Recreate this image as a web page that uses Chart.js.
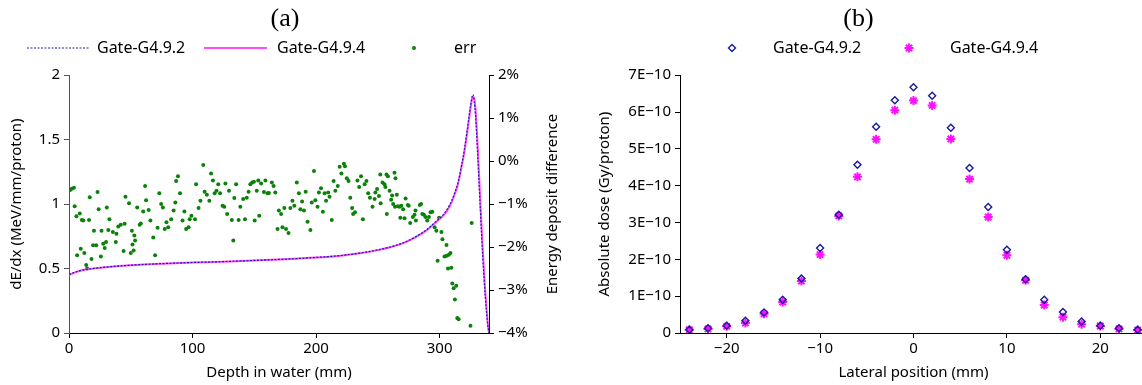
<!DOCTYPE html>
<html>
<head>
<meta charset="utf-8">
<script src="https://cdn.jsdelivr.net/npm/chart.js@4.4.1/dist/chart.umd.min.js"></script>
<style>
  html, body { margin: 0; padding: 0; background: #fff; overflow: hidden; }
  #wrap { position: relative; width: 1142px; height: 385px; overflow: hidden; }
  #panelA { position: absolute; left: 0; top: 0; }
  #panelB { position: absolute; left: 570px; top: 0; }
</style>
</head>
<body>
<div id="wrap">
  <canvas id="panelA" width="570" height="385"></canvas>
  <canvas id="panelB" width="610" height="385"></canvas>
</div>
<script>
// ---------- panel (a): depth dose curves ----------
const depthMm = [0, 5, 10, 20, 30, 50, 75, 100, 125, 150, 175, 200, 220, 235, 250, 260, 270, 280, 290, 297, 303, 308, 312, 315, 318, 320, 322, 324, 325, 326, 327, 328, 329, 330, 331, 332, 333, 334, 335, 336, 337, 338, 339, 340];
const dedxG492 = [0.455, 0.472, 0.487, 0.501, 0.511, 0.526, 0.538, 0.547, 0.554, 0.563, 0.573, 0.586, 0.601, 0.619, 0.645, 0.667, 0.698, 0.743, 0.805, 0.865, 0.918, 0.99, 1.08, 1.17, 1.31, 1.42, 1.55, 1.69, 1.76, 1.82, 1.85, 1.8, 1.7, 1.54, 1.35, 1.15, 0.95, 0.76, 0.58, 0.42, 0.28, 0.16, 0.06, 0];
const dedxG494 = [0.45, 0.47, 0.485, 0.5, 0.51, 0.525, 0.537, 0.546, 0.553, 0.562, 0.572, 0.585, 0.6, 0.618, 0.643, 0.665, 0.695, 0.74, 0.8, 0.86, 0.91, 0.98, 1.07, 1.16, 1.3, 1.4, 1.53, 1.67, 1.74, 1.8, 1.83, 1.82, 1.75, 1.6, 1.42, 1.22, 1.02, 0.82, 0.64, 0.47, 0.32, 0.19, 0.08, 0];

// relative difference (%) between the two versions, read point by point
const errDepth = [0.9, 2.3, 4, 4.6, 6, 6.6, 8.7, 9.5, 10.4, 11.6, 12.4, 13.9, 14.7, 16.2, 16.8, 18.2, 19.5, 20.2, 22, 23.1, 24, 25.8, 26.3, 27.7, 28.9, 30, 30.6, 31.8, 32.7, 35.5, 37.9, 38.4, 39.9, 41.9, 44.2, 45, 45.7, 48.6, 50, 50.9, 51.4, 52.3, 52.9, 53.5, 55.2, 57.2, 58.1, 60.1, 61.6, 62.4, 64.5, 65.9, 68.2, 69.7, 71.7, 73.1, 74.6, 76, 77.5, 78.9, 80.3, 82.7, 84.7, 86.1, 86.7, 88.2, 89.9, 91.9, 93.4, 94.8, 96.8, 97.7, 99.1, 102, 102.9, 104.9, 106.4, 108.7, 109.8, 111.6, 113.6, 115, 116.5, 117.9, 119.4, 120.8, 122.3, 124.3, 125.7, 126.6, 128, 129.5, 131.8, 133, 133.8, 135.3, 137.3, 138.7, 141, 142.5, 143.9, 145.4, 146.8, 148.3, 149.7, 150.3, 152, 153.2, 154, 155.5, 157.8, 159, 160.7, 161.8, 164.2, 165.6, 167, 168.8, 169.9, 171.7, 172.8, 174.3, 175.7, 177.7, 179.2, 180.9, 182.4, 184.4, 186.1, 187.3, 188.7, 190.2, 191.6, 193.1, 195.4, 196.5, 198.3, 199.4, 201.2, 202.3, 204, 205.5, 206.9, 208.1, 209.8, 210.9, 212.7, 214.2, 215.6, 217.6, 219.1, 220.5, 222.5, 223.4, 224.9, 226.3, 227.7, 229.2, 230, 231.5, 233.5, 234.9, 236.4, 237.9, 239.3, 240.8, 242.2, 243.6, 245.7, 247.4, 248, 249.4, 250.9, 252, 252.3, 253.8, 255.4, 256.1, 257, 257.3, 258.1, 259.5, 260.8, 261.6, 262.4, 263.5, 263.9, 264.3, 265.4, 266.2, 267.6, 268.2, 269, 270.5, 271.6, 272.5, 274.3, 275, 276.2, 278.4, 279.7, 280.5, 280.8, 284, 285, 286, 287.3, 288.6, 290, 291.4, 292.7, 294.1, 296, 297.4, 298.4, 299.6, 301.5, 302.3, 304, 305.6, 305.8, 306.8, 307.5, 308.8, 309.5, 310.3, 311.4, 312.4, 313.5, 314.3, 315.4, 325, 326];
const errPct = [-0.67, -0.64, -0.62, -1.05, -1.28, -2.19, -1.22, -2.04, -1.37, -1.38, -2.14, -2.42, -2.5, -1.37, -0.84, -2.28, -1.96, -1.62, -1.96, -0.72, -1.12, -2.22, -1.62, -1.92, -2.02, -1.88, -1.08, -1.6, -1.35, -1.65, -1.88, -1.69, -1.52, -1.48, -2.09, -1.46, -0.83, -0.98, -2.14, -1.62, -1.94, -2.08, -1.73, -1.85, -1.08, -1.48, -1.45, -1.17, -0.58, -0.91, -1.14, -1.38, -1.78, -2.19, -1.55, -0.75, -1.0, -1.08, -1.58, -1.42, -1.54, -1.35, -1.15, -0.96, -0.46, -0.35, -0.75, -1.38, -1.17, -1.58, -1.54, -1.35, -1.27, -1.35, -0.54, -1.09, -0.92, -0.09, -0.71, -0.78, -0.92, -0.29, -0.45, -0.75, -0.69, -0.54, -0.75, -1.04, -1.06, -0.52, -1.23, -0.69, -1.37, -1.85, -0.86, -0.54, -1.37, -1.06, -0.88, -1.35, -0.85, -0.71, -0.54, -0.5, -0.48, -1.38, -0.69, -0.45, -1.27, -0.52, -0.72, -0.45, -0.75, -0.74, -0.5, -0.58, -0.73, -1.58, -1.15, -1.23, -1.54, -1.09, -1.58, -1.67, -1.09, -0.92, -1.04, -0.5, -0.75, -1.12, -0.94, -1.15, -0.71, -1.41, -1.6, -0.96, -0.23, -0.91, -1.06, -0.73, -0.63, -1.18, -0.75, -0.92, -0.73, -0.83, -1.37, -0.46, -0.69, -0.58, -0.13, -0.29, -0.06, -0.12, -0.4, -0.46, -0.85, -1.09, -1.23, -1.19, -0.45, -0.6, -0.35, -1.35, -0.54, -0.46, -0.75, -0.85, -1.06, -0.88, -0.73, -0.65, -0.81, -0.31, -0.98, -0.5, -0.54, -0.6, -0.31, -1.23, -0.35, -0.69, -0.9, -0.8, -1.0, -0.27, -1.06, -0.4, -0.78, -1.05, -1.06, -1.32, -1.04, -1.12, -1.33, -0.87, -1.02, -1.04, -1.44, -1.3, -1.25, -1.15, -1.38, -1.02, -1.0, -1.23, -1.25, -1.3, -1.38, -1.3, -1.19, -1.18, -1.54, -1.62, -2.32, -1.32, -1.65, -1.82, -2.22, -1.95, -2.2, -2.5, -2.18, -2.14, -2.48, -2.85, -2.96, -3.22, -2.9, -3.65, -3.68, -3.83, -1.44];

const depthTicks = [0, 100, 200, 300];
const dedxTicks = [0, 0.5, 1, 1.5, 2];
const pctTicks = [-4, -3, -2, -1, 0, 1, 2];

// ---------- panel (b): lateral profiles ----------
const lateralMm = [-24, -22, -20, -18, -16, -14, -12, -10, -8, -6, -4, -2, 0, 2, 4, 6, 8, 10, 12, 14, 16, 18, 20, 22, 24];
const doseG492 = [0.09e-10, 0.13e-10, 0.2e-10, 0.33e-10, 0.56e-10, 0.9e-10, 1.48e-10, 2.31e-10, 3.21e-10, 4.57e-10, 5.6e-10, 6.32e-10, 6.67e-10, 6.44e-10, 5.57e-10, 4.48e-10, 3.42e-10, 2.26e-10, 1.46e-10, 0.9e-10, 0.57e-10, 0.31e-10, 0.2e-10, 0.13e-10, 0.09e-10];
const doseG494 = [0.09e-10, 0.11e-10, 0.18e-10, 0.27e-10, 0.52e-10, 0.84e-10, 1.41e-10, 2.13e-10, 3.18e-10, 4.24e-10, 5.26e-10, 6.05e-10, 6.31e-10, 6.18e-10, 5.27e-10, 4.18e-10, 3.15e-10, 2.11e-10, 1.43e-10, 0.76e-10, 0.43e-10, 0.24e-10, 0.19e-10, 0.11e-10, 0.08e-10];

const lateralTicks = [-20, -10, 0, 10, 20];
const doseTicks = [0, 1e-10, 2e-10, 3e-10, 4e-10, 5e-10, 6e-10, 7e-10];

const MINUS = '\u2212';
Chart.defaults.font.family = '"Noto Sans", sans-serif';
Chart.defaults.font.size = 15;
Chart.defaults.color = '#000';

const pairs = (xs, ys) => xs.map((x, i) => ({ x, y: ys[i] }));
const fixTicks = (list) => (scale) => { scale.ticks = list.map((v) => ({ value: v })); };

// draws the little legend row above each panel
const inlineLegend = {
  id: 'inlineLegend',
  afterDraw(chart, args, opts) {
    const ctx = chart.ctx;
    ctx.save();
    ctx.font = opts.font;
    ctx.textBaseline = 'middle';
    opts.items.forEach((it) => {
      const ds = chart.data.datasets[it.index];
      ctx.strokeStyle = ds.borderColor;
      ctx.fillStyle = ds.backgroundColor;
      ctx.lineWidth = ds.borderWidth;
      if (it.x1 !== undefined) {
        ctx.setLineDash(ds.borderDash || []);
        ctx.beginPath();
        ctx.moveTo(it.x0, opts.y);
        ctx.lineTo(it.x1, opts.y);
        ctx.stroke();
        ctx.setLineDash([]);
      } else {
        Chart.helpers.drawPoint(ctx, {
          pointStyle: ds.pointStyle, radius: ds.pointRadius,
          borderWidth: ds.borderWidth, rotation: 0
        }, it.x0, opts.y);
      }
      ctx.fillStyle = '#000';
      ctx.fillText(ds.label, it.tx, opts.y);
    });
    ctx.restore();
  }
};

// right-hand axis title, read bottom to top like the left one
const sideTitle = {
  id: 'sideTitle',
  afterDraw(chart, args, opts) {
    const ctx = chart.ctx;
    const area = chart.chartArea;
    ctx.save();
    ctx.font = opts.font;
    ctx.fillStyle = '#000';
    ctx.textAlign = 'center';
    ctx.textBaseline = 'middle';
    ctx.translate(opts.x, (area.top + area.bottom) / 2);
    ctx.rotate(-Math.PI / 2);
    ctx.fillText(opts.text, 0, 0);
    ctx.restore();
  }
};

const axisLook = (color) => ({
  grid: { display: true, drawOnChartArea: false, tickLength: 5, color: color, lineWidth: 1 },
  border: { display: true, color: color, width: 1 }
});

new Chart(document.getElementById('panelA'), {
  type: 'scatter',
  data: {
    datasets: [
      {
        label: 'Gate-G4.9.2', data: pairs(depthMm, dedxG492), yAxisID: 'y',
        showLine: true, pointRadius: 0, borderColor: '#1c1ca8', backgroundColor: '#1c1ca8',
        borderWidth: 1.2, borderDash: [2, 1.5], cubicInterpolationMode: 'monotone'
      },
      {
        label: 'Gate-G4.9.4', data: pairs(depthMm, dedxG494), yAxisID: 'y',
        showLine: true, pointRadius: 0, borderColor: '#ff4cff', backgroundColor: '#ff4cff',
        borderWidth: 2, cubicInterpolationMode: 'monotone'
      },
      {
        label: 'err', data: pairs(errDepth, errPct), yAxisID: 'y2',
        pointRadius: 2, pointStyle: 'circle', borderWidth: 0,
        backgroundColor: '#0a820a', borderColor: '#0a820a'
      }
    ]
  },
  options: {
    responsive: false,
    animation: false,
    devicePixelRatio: 1,
    layout: { padding: 0 },
    plugins: {
      legend: { display: false },
      tooltip: { enabled: false },
      title: {
        display: true, text: '(a)', color: '#000',
        font: { family: '"Liberation Serif", serif', size: 26, weight: 'normal' },
        padding: { top: 4, bottom: 40 }
      },
      inlineLegend: {
        y: 48, font: '16px "Noto Sans", sans-serif',
        items: [
          { index: 0, x0: 27, x1: 89, tx: 97 },
          { index: 1, x0: 204, x1: 267, tx: 277 },
          { index: 2, x0: 414, tx: 454 }
        ]
      },
      sideTitle: { text: 'Energy deposit difference', x: 553, font: '15px "Noto Sans", sans-serif' }
    },
    scales: {
      x: {
        type: 'linear', min: 0, max: 340, position: 'bottom',
        afterBuildTicks: fixTicks(depthTicks),
        afterFit: (s) => { s.height = 52; },
        ticks: { padding: 2, maxRotation: 0 },
        title: { display: true, text: 'Depth in water (mm)', padding: { top: 2, bottom: 3 } },
        ...axisLook('#000')
      },
      y: {
        type: 'linear', min: 0, max: 2, position: 'left',
        afterBuildTicks: fixTicks(dedxTicks),
        afterFit: (s) => { s.width = 69; },
        ticks: { padding: 4, callback: (v) => String(v) },
        title: { display: true, text: 'dE/dx (MeV/mm/proton)', padding: { top: 8, bottom: 0 } },
        ...axisLook('#555')
      },
      y2: {
        type: 'linear', min: -4, max: 2, position: 'right',
        afterBuildTicks: fixTicks(pctTicks),
        afterFit: (s) => { s.width = 81; },
        ticks: { padding: 4, callback: (v) => (v < 0 ? MINUS : '') + Math.abs(v) + '%' },
        title: { display: false },
        ...axisLook('#000')
      }
    }
  },
  plugins: [inlineLegend, sideTitle]
});

new Chart(document.getElementById('panelB'), {
  type: 'scatter',
  data: {
    datasets: [
      {
        label: 'Gate-G4.9.2', data: pairs(lateralMm, doseG492),
        pointStyle: 'rectRot', pointRadius: 3.5, borderWidth: 1.4,
        borderColor: '#1a1a9a', backgroundColor: 'rgba(255,255,255,0)'
      },
      {
        label: 'Gate-G4.9.4', data: pairs(lateralMm, doseG494),
        pointStyle: 'star', pointRadius: 4.5, borderWidth: 2,
        borderColor: '#ff10ff', backgroundColor: '#ff10ff'
      }
    ]
  },
  options: {
    responsive: false,
    animation: false,
    devicePixelRatio: 1,
    layout: { padding: { right: 33 } },
    plugins: {
      legend: { display: false },
      tooltip: { enabled: false },
      title: {
        display: true, text: '(b)', color: '#000',
        font: { family: '"Liberation Serif", serif', size: 26, weight: 'normal' },
        padding: { top: 4, bottom: 40 }
      },
      inlineLegend: {
        y: 48, font: '16px "Noto Sans", sans-serif',
        items: [
          { index: 0, x0: 162, tx: 203 },
          { index: 1, x0: 339, tx: 380 }
        ]
      }
    },
    scales: {
      x: {
        type: 'linear', min: -25, max: 25, position: 'bottom',
        afterBuildTicks: fixTicks(lateralTicks),
        afterFit: (s) => { s.height = 52; },
        ticks: { padding: 2, maxRotation: 0, callback: (v) => (v < 0 ? MINUS : '') + Math.abs(v) },
        title: { display: true, text: 'Lateral position (mm)', padding: { top: 2, bottom: 3 } },
        ...axisLook('#000')
      },
      y: {
        type: 'linear', min: 0, max: 7e-10, position: 'left',
        afterBuildTicks: fixTicks(doseTicks),
        afterFit: (s) => { s.width = 110; },
        ticks: { padding: 4, callback: (v) => v === 0 ? '0' : Math.round(v * 1e10) + 'E' + MINUS + '10' },
        title: { display: true, text: 'Absolute dose (Gy/proton)', padding: { top: 26, bottom: 0 } },
        ...axisLook('#000')
      }
    }
  },
  plugins: [inlineLegend]
});
</script>
</body>
</html>
